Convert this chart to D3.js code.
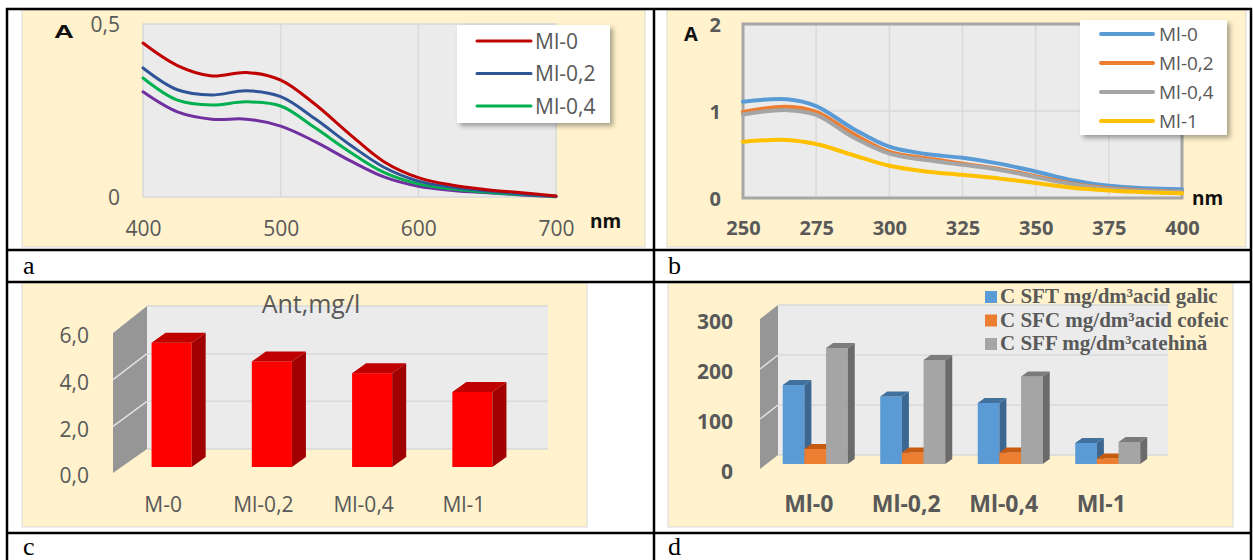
<!DOCTYPE html>
<html>
<head>
<meta charset="utf-8">
<script src="https://cdn.jsdelivr.net/npm/d3@7"></script>
<style>
  html, body { margin: 0; padding: 0; background: #ffffff; }
  svg { display: block; }
  text { font-family: "Open Sans", "Noto Sans", sans-serif; }
</style>
</head>
<body>
<div id="chart"></div>
<script>
// ---- data ----
const wlA = [400, 425, 450, 475, 500, 525, 550, 575, 600, 625, 650, 675, 700];
const aMl0  = [0.445, 0.380, 0.350, 0.360, 0.338, 0.268, 0.182, 0.102, 0.056, 0.034, 0.021, 0.012, 0.003];
const aMl02 = [0.373, 0.310, 0.295, 0.307, 0.290, 0.226, 0.152, 0.086, 0.046, 0.028, 0.017, 0.009, 0.002];
const aMl04 = [0.344, 0.280, 0.266, 0.275, 0.263, 0.200, 0.131, 0.071, 0.038, 0.023, 0.014, 0.007, 0.002];
const aMl1  = [0.304, 0.246, 0.225, 0.225, 0.205, 0.160, 0.106, 0.058, 0.031, 0.019, 0.012, 0.006, 0.001];
const aTicksX = [400, 500, 600, 700];
const aTicksY = [0, 0.5];

const wlB = [250, 265, 275, 287.5, 300, 312.5, 325, 337.5, 350, 362.5, 375, 387.5, 400];
const bMl0  = [1.107, 1.134, 1.057, 0.800, 0.590, 0.506, 0.462, 0.395, 0.305, 0.205, 0.140, 0.112, 0.100];
const bMl02 = [0.990, 1.050, 0.990, 0.740, 0.530, 0.456, 0.395, 0.335, 0.250, 0.165, 0.112, 0.086, 0.072];
const bMl04 = [0.960, 1.010, 0.955, 0.700, 0.510, 0.437, 0.383, 0.325, 0.240, 0.158, 0.107, 0.081, 0.070];
const bMl1  = [0.647, 0.667, 0.620, 0.494, 0.370, 0.305, 0.266, 0.225, 0.172, 0.118, 0.086, 0.066, 0.054];
const bTicksX = [250, 275, 300, 325, 350, 375, 400];
const bTicksY = [0, 1, 2];

const antCats = ['M-0', 'Ml-0,2', 'Ml-0,4', 'Ml-1'];
const antVals = [5.3, 4.5, 4.0, 3.2];
const antTicks = [0, 2, 4, 6];

const polyCats = ['Ml-0', 'Ml-0,2', 'Ml-0,4', 'Ml-1'];
const sftVals = [158, 135, 122, 42];
const sfcVals = [30, 23, 23, 11];
const sffVals = [232, 208, 175, 44];
const polyTicks = [0, 100, 200, 300];
const polyLegend = ['C SFT mg/dm³acid galic', 'C SFC mg/dm³acid cofeic', 'C SFF mg/dm³catehină'];

const comma = v => String(v).replace('.', ',');
const comma1 = v => d3.format('.1f')(v).replace('.', ',');

const W = 1253, H = 560;
const cream = '#fff2cc', wall = '#ebebeb', grid = '#d9d9d9', txt = '#595959';

const svg = d3.select('#chart').append('svg')
    .attr('width', W)
    .attr('height', H);

const defs = svg.append('defs');
const shadow = defs.append('filter').attr('id', 'shadow')
    .attr('x', '-10%').attr('y', '-10%').attr('width', '130%').attr('height', '130%');
shadow.append('feDropShadow')
    .attr('dx', 3).attr('dy', 3).attr('stdDeviation', 2.5)
    .attr('flood-color', '#000').attr('flood-opacity', 0.35);

// chart backgrounds
function panelBg(x0, y0, x1, y1) {
    svg.append('rect')
        .attr('x', x0).attr('y', y0)
        .attr('width', x1 - x0).attr('height', y1 - y0)
        .attr('fill', cream)
        .attr('stroke', '#d9d9d9')
        .attr('stroke-width', 1);
}
panelBg(22, 10, 645, 247);
panelBg(667, 10, 1246, 247);
panelBg(22, 283, 587, 527);
panelBg(668, 283, 1233, 527);

function styleAxis(g, size, weight, color) {
    g.select('.domain').remove();
    g.selectAll('.tick line').remove();
    g.selectAll('text')
        .attr('fill', color)
        .style('font-size', size + 'px')
        .style('font-weight', weight);
}

function legendBox(x0, y0, w, h, items, lineX0, lineX1, textX, firstY, step, lw, fs) {
    const lg = svg.append('g');
    lg.append('rect')
        .attr('x', x0).attr('y', y0).attr('width', w).attr('height', h)
        .attr('fill', '#fff')
        .attr('filter', 'url(#shadow)');
    items.forEach((it, i) => {
        const y = firstY + i * step;
        lg.append('line')
            .attr('x1', lineX0).attr('x2', lineX1)
            .attr('y1', y).attr('y2', y)
            .attr('stroke', it.color)
            .attr('stroke-width', lw)
            .attr('stroke-linecap', 'round');
        lg.append('text')
            .attr('x', textX).attr('y', y)
            .attr('dy', '0.36em')
            .attr('fill', txt)
            .style('font-size', fs + 'px')
            .text(it.name);
    });
}

// ---------- panel a ----------
{
    const x = d3.scaleLinear().domain([400, 700]).range([143, 556]);
    const y = d3.scaleLinear().domain([0, 0.5]).range([197, 24]);

    svg.append('rect')
        .attr('x', 143).attr('y', 24)
        .attr('width', 413).attr('height', 173)
        .attr('fill', wall)
        .attr('stroke', grid).attr('stroke-width', 1.5);

    svg.append('g').selectAll('line')
        .data([500, 600])
        .enter().append('line')
        .attr('x1', d => x(d)).attr('x2', d => x(d))
        .attr('y1', 24).attr('y2', 197)
        .attr('stroke', grid).attr('stroke-width', 1.5);

    const series = [
        { name: 'Ml-0', values: aMl0, color: '#c00000' },
        { name: 'Ml-0,2', values: aMl02, color: '#2f5597' },
        { name: 'Ml-0,4', values: aMl04, color: '#00b050' },
        { name: 'Ml-1', values: aMl1, color: '#7030a0' }
    ];
    const line = d3.line()
        .x((d, i) => x(wlA[i]))
        .y(d => y(d))
        .curve(d3.curveCatmullRom.alpha(0.5));

    svg.append('g').selectAll('path')
        .data(series.slice().reverse())
        .enter().append('path')
        .attr('d', d => line(d.values))
        .attr('fill', 'none')
        .attr('stroke', d => d.color)
        .attr('stroke-width', 3)
        .attr('stroke-linecap', 'round');

    const ax = svg.append('g')
        .attr('transform', 'translate(0,197)')
        .call(d3.axisBottom(x).tickValues(aTicksX).tickSize(0).tickPadding(24));
    styleAxis(ax, 21, 400, txt);

    const ay = svg.append('g')
        .attr('transform', 'translate(143,1)')
        .call(d3.axisLeft(y).tickValues(aTicksY).tickSize(0).tickPadding(23).tickFormat(comma));
    styleAxis(ay, 21, 400, txt);

    // wide bold "A" axis title
    svg.append('text')
        .attr('transform', 'translate(54,38) scale(1.45,1)')
        .style('font-family', '"Liberation Sans", Arial, sans-serif')
        .style('font-weight', 900)
        .style('font-size', '19px')
        .attr('fill', '#111')
        .text('A');

    svg.append('text')
        .attr('x', 590).attr('y', 228)
        .style('font-weight', 700)
        .style('font-size', '19px')
        .attr('fill', '#111')
        .text('nm');

    legendBox(457, 25, 153, 98, series.slice(0, 3), 477, 531, 535, 41, 32.5, 3, 21);
}

// ---------- panel b ----------
{
    const x = d3.scaleLinear().domain([250, 400]).range([743, 1182]);
    const y = d3.scaleLinear().domain([0, 2]).range([198, 24]);

    svg.append('rect')
        .attr('x', 743).attr('y', 24)
        .attr('width', 439).attr('height', 174)
        .attr('fill', wall);

    svg.append('g').selectAll('line')
        .data(bTicksX.slice(1, -1))
        .enter().append('line')
        .attr('x1', d => x(d)).attr('x2', d => x(d))
        .attr('y1', 24).attr('y2', 198)
        .attr('stroke', grid).attr('stroke-width', 1.5);
    svg.append('line')
        .attr('x1', 743).attr('x2', 1182)
        .attr('y1', y(1)).attr('y2', y(1))
        .attr('stroke', grid).attr('stroke-width', 1.5);

    svg.append('rect')
        .attr('x', 743).attr('y', 24)
        .attr('width', 439).attr('height', 174)
        .attr('fill', 'none')
        .attr('stroke', '#a6a6a6').attr('stroke-width', 3);

    const series = [
        { name: 'Ml-0', values: bMl0, color: '#5b9bd5' },
        { name: 'Ml-0,2', values: bMl02, color: '#ed7d31' },
        { name: 'Ml-0,4', values: bMl04, color: '#a5a5a5' },
        { name: 'Ml-1', values: bMl1, color: '#ffc000' }
    ];
    const line = d3.line()
        .x((d, i) => x(wlB[i]))
        .y(d => y(d))
        .curve(d3.curveCatmullRom.alpha(0.5));

    svg.append('g').selectAll('path')
        .data(series)
        .enter().append('path')
        .attr('d', d => line(d.values))
        .attr('fill', 'none')
        .attr('stroke', d => d.color)
        .attr('stroke-width', 4)
        .attr('stroke-linecap', 'round');

    const ax = svg.append('g')
        .attr('transform', 'translate(0,198)')
        .call(d3.axisBottom(x).tickValues(bTicksX).tickSize(0).tickPadding(23));
    styleAxis(ax, 20, 700, txt);

    const ay = svg.append('g')
        .attr('transform', 'translate(743,1)')
        .call(d3.axisLeft(y).tickValues(bTicksY).tickSize(0).tickPadding(22).tickFormat(d3.format('d')));
    styleAxis(ay, 20, 700, txt);

    svg.append('text')
        .attr('x', 684).attr('y', 41)
        .style('font-weight', 700)
        .style('font-size', '20px')
        .attr('fill', '#111')
        .text('A');

    svg.append('text')
        .attr('x', 1192).attr('y', 205)
        .style('font-weight', 700)
        .style('font-size', '19px')
        .attr('fill', '#111')
        .text('nm');

    legendBox(1080, 20, 147, 115, series, 1101, 1153, 1159, 34, 29, 4, 19);
}

// ---------- 3D bar helpers ----------
function floorAndWalls(g, fx0, bx0, bx1, yF, yB, vMax, ticks) {
    // back wall
    g.append('rect')
        .attr('x', bx0).attr('y', yB(vMax))
        .attr('width', bx1 - bx0).attr('height', yB(0) - yB(vMax))
        .attr('fill', wall);
    g.append('g').selectAll('line')
        .data(ticks)
        .enter().append('line')
        .attr('x1', bx0).attr('x2', bx1)
        .attr('y1', d => yB(d)).attr('y2', d => yB(d))
        .attr('stroke', grid).attr('stroke-width', 1.5);
    // side wall
    g.append('polygon')
        .attr('points', [[fx0, yF(0)], [fx0, yF(vMax)], [bx0, yB(vMax)], [bx0, yB(0)]].join(' '))
        .attr('fill', '#969696');
    g.append('g').selectAll('line')
        .data(ticks.filter(t => t > 0 && t < vMax))
        .enter().append('line')
        .attr('x1', fx0).attr('x2', bx0)
        .attr('y1', d => yF(d)).attr('y2', d => yB(d))
        .attr('stroke', '#e0e0e0').attr('stroke-width', 1.5);
}

function bar3d(g, x0, w, yBase, yTop, dx, dy, c) {
    g.append('rect')
        .attr('x', x0).attr('y', yTop)
        .attr('width', w).attr('height', yBase - yTop)
        .attr('fill', c.front);
    g.append('polygon')
        .attr('points', [[x0 + w, yTop], [x0 + w + dx, yTop + dy], [x0 + w + dx, yBase + dy], [x0 + w, yBase]].join(' '))
        .attr('fill', c.side);
    g.append('polygon')
        .attr('points', [[x0, yTop], [x0 + w, yTop], [x0 + w + dx, yTop + dy], [x0 + dx, yTop + dy]].join(' '))
        .attr('fill', c.top);
}

// ---------- panel c ----------
{
    const g = svg.append('g');
    const fx0 = 113, bx0 = 147, bx1 = 548;
    const depthX = bx0 - fx0;
    const yF = d3.scaleLinear().domain([0, 6]).range([473, 333]);
    const yB = d3.scaleLinear().domain([0, 6]).range([449, 306]);
    floorAndWalls(g, fx0, bx0, bx1, yF, yB, 6, antTicks);

    const x = d3.scaleBand().domain(antCats).range([fx0, bx1 - depthX]);
    const f = 0.25;
    const yBar = v => yF(v) + f * (yB(v) - yF(v));
    const bw = x.bandwidth() * 0.4;
    const red = { front: '#ff0000', side: '#a00000', top: '#c00000' };

    antCats.forEach((c, i) => {
        const cx = x(c) + x.bandwidth() / 2 + f * depthX;
        bar3d(g, cx - bw / 2, bw, yBar(0), yBar(antVals[i]), 14, -10, red);
    });

    const ax = svg.append('g')
        .attr('transform', 'translate(0,473)')
        .call(d3.axisBottom(x).tickSize(0).tickPadding(24));
    styleAxis(ax, 21, 400, txt);

    const ay = svg.append('g')
        .attr('transform', 'translate(113,3)')
        .call(d3.axisLeft(yF).tickValues(antTicks).tickSize(0).tickPadding(24).tickFormat(comma1));
    styleAxis(ay, 21, 400, txt);

    svg.append('text')
        .attr('x', 311).attr('y', 313)
        .attr('text-anchor', 'middle')
        .attr('fill', txt)
        .style('font-size', '25px')
        .text('Ant,mg/l');
}

// ---------- panel d ----------
{
    const g = svg.append('g');
    const fx0 = 760, bx0 = 778, bx1 = 1168;
    const depthX = bx0 - fx0;
    const yF = d3.scaleLinear().domain([0, 300]).range([469, 319]);
    const yB = d3.scaleLinear().domain([0, 300]).range([455, 305]);
    floorAndWalls(g, fx0, bx0, bx1, yF, yB, 300, polyTicks);

    const x = d3.scaleBand().domain(polyCats).range([fx0, bx1 - depthX]);
    const keys = ['sft', 'sfc', 'sff'];
    const xi = d3.scaleBand().domain(keys).range([0, 65]);
    const f = 0.36;
    const yBar = v => yF(v) + f * (yB(v) - yF(v));
    const cols = {
        sft: { front: '#5b9bd5', side: '#3b6791', top: '#41719c' },
        sfc: { front: '#ed7d31', side: '#ae5a21', top: '#c55a11' },
        sff: { front: '#a5a5a5', side: '#6b6b6b', top: '#7b7b7b' }
    };
    const vals = { sft: sftVals, sfc: sfcVals, sff: sffVals };

    polyCats.forEach((c, i) => {
        const gx = x(c) + x.bandwidth() / 2 + f * depthX - 32.5;
        keys.forEach(k => {
            bar3d(g, gx + xi(k), xi.bandwidth(), yBar(0), yBar(vals[k][i]), 7, -5, cols[k]);
        });
    });

    const ax = svg.append('g')
        .attr('transform', 'translate(0,469)')
        .call(d3.axisBottom(x).tickSize(0).tickPadding(27));
    styleAxis(ax, 23, 700, txt);

    const ay = svg.append('g')
        .attr('transform', 'translate(760,3)')
        .call(d3.axisLeft(yF).tickValues(polyTicks).tickSize(0).tickPadding(27));
    styleAxis(ay, 21, 700, txt);

    const lg = svg.append('g');
    polyLegend.forEach((name, i) => {
        const yy = 303 + i * 23.5;
        lg.append('rect')
            .attr('x', 985).attr('y', yy - 12)
            .attr('width', 12).attr('height', 12)
            .attr('fill', cols[keys[i]].front);
        lg.append('text')
            .attr('x', 1000).attr('y', yy)
            .attr('fill', txt)
            .style('font-family', '"Liberation Serif", "Times New Roman", serif')
            .style('font-weight', 700)
            .style('font-size', '21px')
            .text(name);
    });
}

// ---------- table grid ----------
const tbl = svg.append('g')
    .attr('stroke', '#000')
    .attr('stroke-width', 2.5);
[9, 250, 282, 533].forEach(yy => {
    tbl.append('line').attr('x1', 6).attr('x2', 1252).attr('y1', yy).attr('y2', yy);
});
[7, 654, 1251].forEach(xx => {
    tbl.append('line').attr('x1', xx).attr('x2', xx).attr('y1', 8).attr('y2', 560);
});

const labels = [
    { t: 'a', x: 23, y: 274 },
    { t: 'b', x: 668, y: 274 },
    { t: 'c', x: 23, y: 555 },
    { t: 'd', x: 668, y: 555 }
];
svg.append('g').selectAll('text')
    .data(labels)
    .enter().append('text')
    .attr('x', d => d.x).attr('y', d => d.y)
    .style('font-family', '"Liberation Serif", "Times New Roman", serif')
    .style('font-size', '26px')
    .attr('fill', '#000')
    .text(d => d.t);
</script>
</body>
</html>
